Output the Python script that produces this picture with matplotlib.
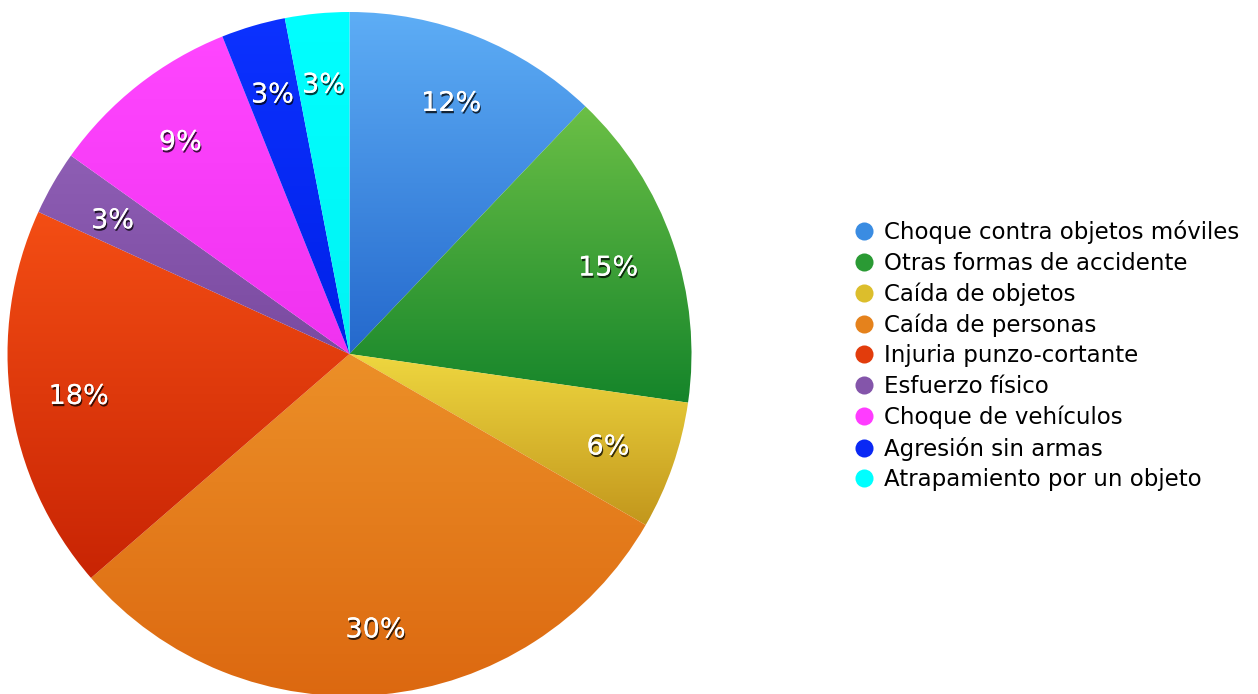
import numpy as np
import matplotlib
matplotlib.use("Agg")
import matplotlib.pyplot as plt
import matplotlib.patheffects as pe
from matplotlib.colors import LinearSegmentedColormap
from matplotlib.lines import Line2D

plt.rcParams['font.family'] = ['DejaVu Sans']

categories = [
    "Choque contra objetos móviles",
    "Otras formas de accidente",
    "Caída de objetos",
    "Caída de personas",
    "Injuria punzo-cortante",
    "Esfuerzo físico",
    "Choque de vehículos",
    "Agresión sin armas",
    "Atrapamiento por un objeto",
]
values = [12, 15, 6, 30, 18, 3, 9, 3, 3]

# (top colour, bottom colour) for each slice's vertical shading
top_colors = ["#5eaef6", "#6cc046", "#efd840", "#ec9028", "#f44e14",
              "#8e5eb4", "#ff46ff", "#0c32ff", "#00ffff"]
bottom_colors = ["#2468cc", "#14842a", "#c2961c", "#dc6810", "#c82404",
                 "#7a4aa0", "#f032f0", "#0020e8", "#00f4f4"]
legend_colors = ["#3a8ce2", "#2a9a34", "#dcbe2c", "#e5821c", "#e23c0c",
                 "#8455aa", "#ff3cff", "#0a28f4", "#00ffff"]

W, H = 1258, 694
fig = plt.figure(figsize=(W / 100, H / 100), dpi=100)
ax = fig.add_axes([0, 0, 1, 1])

cx, cy, R = 349.5, 340.0, 342.0
wedges, _ = ax.pie(values, startangle=90, counterclock=False, radius=R,
                   center=(cx, cy), frame=True,
                   wedgeprops=dict(linewidth=0, edgecolor="none"))
ax.set_xlim(0, W)
ax.set_ylim(0, H)
ax.set_aspect("auto")
ax.axis("off")

# vertical shading spanning each slice's own height
grad = np.linspace(0, 1, 256).reshape(-1, 1)
for w, c0, c1 in zip(wedges, top_colors, bottom_colors):
    w.set_facecolor("none")
    bb = w.get_path().get_extents()
    cmap = LinearSegmentedColormap.from_list("g", [c0, c1])
    im = ax.imshow(grad, cmap=cmap, aspect="auto", origin="upper",
                   extent=(bb.x0 - 2, bb.x1 + 2, bb.y0 - 2, bb.y1 + 2), zorder=1)
    im.set_clip_path(w)

shadow = [pe.withSimplePatchShadow(offset=(0.8, -1.6), shadow_rgbFace="black",
                                   alpha=0.75), pe.Normal()]
for w, v in zip(wedges, values):
    mid = np.deg2rad((w.theta1 + w.theta2) / 2)
    x = cx + 0.8 * R * np.cos(mid)
    y = cy + 0.8 * R * np.sin(mid) - 4
    ax.text(x, y, f"{v}%", ha="center", va="center", color="white",
            fontsize=19.5, zorder=5, path_effects=shadow)

handles = [Line2D([], [], marker="o", linestyle="none", markersize=13,
                  markerfacecolor=c, markeredgecolor="none") for c in legend_colors]
fig.legend(handles, categories, loc="center left", bbox_to_anchor=(0.6705, 0.4875),
           frameon=False, fontsize=16.5, handletextpad=0.35, labelspacing=0.33,
           handlelength=1.0, borderaxespad=0)

fig.savefig("out.png", dpi=100)
